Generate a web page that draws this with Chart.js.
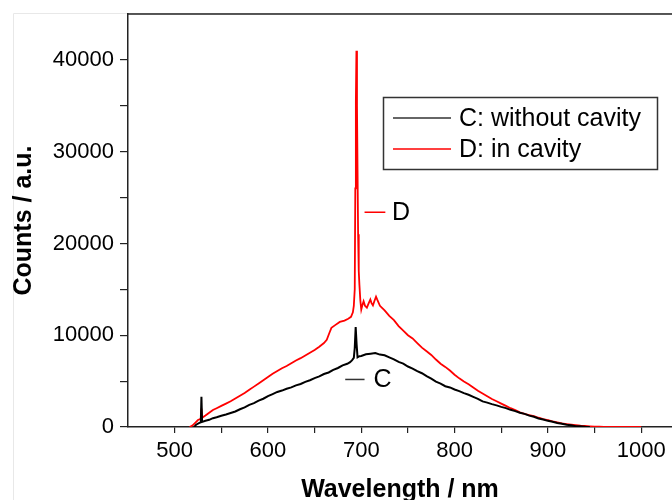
<!DOCTYPE html>
<html>
<head>
<meta charset="utf-8">
<script src="https://cdn.jsdelivr.net/npm/chart.js@4/dist/chart.umd.min.js"></script>
<style>
  body { margin: 0; background: #fff; }
  #wrap { width: 672px; height: 500px; overflow: hidden; }
  canvas { display: block; }
</style>
</head>
<body>
<div id="wrap"><canvas id="spectrum" width="672" height="508"></canvas></div>
<script>
// Data
const wavelengthC = [521, 523, 526, 528, 528.7, 529.4, 533, 537, 541, 545,
  550, 555, 560, 565, 570, 575, 580, 585, 590, 595,
  600, 605, 610, 615, 620, 625, 630, 635, 640, 645,
  650, 655, 660, 665, 670, 675, 680, 685, 688, 690,
  692, 693, 694, 695, 696, 698, 700,
  705, 710, 715, 720, 725, 730, 735, 740, 745, 750,
  755, 760, 765, 770, 775, 780, 785, 790, 795, 800,
  805, 810, 815, 820, 825, 830, 835, 840, 845, 850,
  855, 860, 865, 870, 875, 880, 885, 890, 895, 900,
  905, 910, 915, 920, 925, 930, 935, 940, 945];
const countsC = [0, 250, 420, 500, 3300, 560, 680, 780, 960, 1060,
  1230, 1360, 1520, 1690, 1930, 2130, 2420, 2600, 2870, 3080,
  3370, 3590, 3820, 3970, 4170, 4320, 4540, 4690, 4920, 5090,
  5320, 5510, 5770, 5940, 6220, 6430, 6720, 6890, 7060, 7260,
  7520, 8600, 10900, 9000, 7600, 7720, 7740,
  7920, 7990, 8060, 7890, 7810, 7590, 7370, 7090, 6910, 6590,
  6370, 6090, 5860, 5540, 5260, 4940, 4720, 4440, 4310, 4090,
  3910, 3690, 3510, 3290, 3060, 2790, 2660, 2490, 2360, 2190,
  2060, 1870, 1730, 1550, 1430, 1240, 1110, 930, 810, 670,
  570, 440, 360, 240, 180, 90, 70, 20, 0];

const wavelengthD = [516, 519, 522, 525, 528, 528.7, 529.4, 533, 537, 541, 545,
  550, 555, 560, 565, 570, 575, 580, 585, 590, 595,
  600, 605, 610, 615, 620, 625, 630, 635, 640, 645,
  650, 655, 660, 663, 666, 668, 672, 677, 682, 686,
  689, 691, 692, 693, 693.6, 694.2, 694.8, 695.4, 696, 696.6,
  697.3, 698, 699, 700, 701, 702.5, 704, 706, 708, 709.7,
  711, 712.5, 714, 715.8, 717, 720,
  725, 730, 735, 740, 745, 750, 755, 760, 765, 770,
  775, 780, 785, 790, 795, 800, 805, 810, 815, 820,
  825, 830, 835, 840, 845, 850, 855, 860, 865, 870,
  875, 880, 885, 890, 895, 900, 905, 910, 915, 920,
  925, 930, 935, 940, 945, 950, 955, 960,
  970, 980, 990, 1000];
const countsD = [0, 150, 450, 760, 900, 2000, 1000, 1250, 1550, 1850, 2050,
  2300, 2550, 2800, 3100, 3400, 3700, 4050, 4400, 4750, 5100,
  5450, 5800, 6100, 6400, 6650, 6950, 7250, 7500, 7800, 8100,
  8400, 8750, 9150, 9500, 10300, 10800, 11100, 11450, 11600, 11800,
  12000, 12500, 13200, 15000, 26000, 35500, 41000, 35000, 28000, 21000,
  17000, 15500, 13800, 12800, 13200, 13700, 13200, 13000, 13500, 13900,
  13500, 13250, 13700, 14200, 13900, 13200,
  12700, 12100, 11650, 11000, 10500, 10000, 9650, 9150, 8650, 8250,
  7850, 7350, 6900, 6550, 6150, 5700, 5300, 4950, 4650, 4300,
  3950, 3650, 3350, 3050, 2800, 2550, 2300, 2050, 1850, 1600,
  1420, 1300, 1180, 1010, 860, 740, 610, 500, 400, 320,
  250, 190, 140, 110, 70, 40, 25, 10,
  0, 0, 0, 0];

const seriesNames = ['C: without cavity', 'D: in cavity'];
const seriesColors = ['#000000', '#ff0000'];
const xTickValues = [500, 550, 600, 650, 700, 750, 800, 850, 900, 950, 1000];
const yTickValues = [0, 5000, 10000, 15000, 20000, 25000, 30000, 35000, 40000];

const FONT = "'Liberation Sans', Arial, sans-serif";
const AXIS = '#222';

function toPoints(xs, ys) {
  return xs.map((x, i) => ({ x: x, y: ys[i] }));
}

// frame, top axis line, legend box and the C / D labels
const decorations = {
  id: 'decorations',
  beforeDraw(chart) {
    const ctx = chart.ctx;
    ctx.save();
    ctx.strokeStyle = '#e8e8e8';
    ctx.lineWidth = 1;
    ctx.beginPath();
    ctx.moveTo(13.5, 508);
    ctx.lineTo(13.5, 13.5);
    ctx.lineTo(672, 13.5);
    ctx.stroke();
    ctx.restore();
  },
  afterDraw(chart) {
    const ctx = chart.ctx;
    const a = chart.chartArea;
    const xs = chart.scales.x, ys = chart.scales.y;
    ctx.save();
    ctx.strokeStyle = AXIS;
    ctx.lineWidth = 1.5;
    ctx.beginPath();
    ctx.moveTo(a.left, a.top);
    ctx.lineTo(a.right, a.top);
    ctx.stroke();

    // legend
    const bx = a.left + 255, by = a.top + 83, bw = 274, bh = 72;
    ctx.strokeStyle = '#333';
    ctx.lineWidth = 1.5;
    ctx.strokeRect(bx + 0.5, by + 0.5, bw, bh);
    ctx.font = '25px ' + FONT;
    ctx.textBaseline = 'middle';
    ctx.textAlign = 'left';
    seriesNames.forEach((name, i) => {
      const ly = by + 21 + i * 31;
      ctx.strokeStyle = i === 0 ? '#333' : seriesColors[i];
      ctx.lineWidth = 1.5;
      ctx.beginPath();
      ctx.moveTo(bx + 10, ly);
      ctx.lineTo(bx + 68, ly);
      ctx.stroke();
      ctx.fillStyle = '#000';
      ctx.fillText(name, bx + 76, ly + 1);
    });

    // curve labels
    const dY = ys.getPixelForValue(23400);
    ctx.strokeStyle = seriesColors[1];
    ctx.beginPath();
    ctx.moveTo(xs.getPixelForValue(703.5), dY);
    ctx.lineTo(xs.getPixelForValue(725.8), dY);
    ctx.stroke();
    ctx.fillStyle = '#000';
    ctx.fillText('D', xs.getPixelForValue(733), dY + 1);

    const cY = ys.getPixelForValue(5180);
    ctx.strokeStyle = '#333';
    ctx.beginPath();
    ctx.moveTo(xs.getPixelForValue(682.8), cY);
    ctx.lineTo(xs.getPixelForValue(703.5), cY);
    ctx.stroke();
    ctx.fillText('C', xs.getPixelForValue(713), cY + 1);
    ctx.restore();
  }
};

const ctx = document.getElementById('spectrum').getContext('2d');
const chart = new Chart(ctx, {
  type: 'line',
  data: {
    datasets: [{
      label: seriesNames[0],
      data: toPoints(wavelengthC, countsC),
      borderColor: seriesColors[0],
      borderWidth: 2,
      pointRadius: 0,
      tension: 0
    }, {
      label: seriesNames[1],
      data: toPoints(wavelengthD, countsD),
      borderColor: seriesColors[1],
      borderWidth: 1.8,
      pointRadius: 0,
      tension: 0
    }]
  },
  options: {
    responsive: false,
    animation: false,
    layout: { padding: { top: 14, left: 0, right: 0, bottom: 0 } },
    plugins: {
      legend: { display: false },
      tooltip: { enabled: false }
    },
    scales: {
      x: {
        type: 'linear',
        min: 450,
        max: 1033,
        afterBuildTicks: s => { s.ticks = xTickValues.map(v => ({ value: v })); },
        afterFit: s => { s.height = 81; s.paddingLeft = 0; s.paddingRight = 0; },
        grid: { drawOnChartArea: false, drawTicks: true, tickLength: 6, color: AXIS, lineWidth: 1.2 },
        border: { display: true, color: AXIS, width: 1.5 },
        ticks: {
          padding: 5,
          color: '#000',
          maxRotation: 0,
          autoSkip: false,
          font: { family: FONT, size: 22 },
          callback: v => (v % 100 === 0 ? String(v) : '')
        },
        title: {
          display: true,
          text: 'Wavelength / nm',
          color: '#000',
          font: { family: FONT, size: 25, weight: 'bold' },
          padding: { top: 4, bottom: 3 }
        }
      },
      y: {
        min: 0,
        max: 45000,
        afterBuildTicks: s => { s.ticks = yTickValues.map(v => ({ value: v })); },
        afterFit: s => { s.width = 128; s.paddingTop = 0; s.paddingBottom = 0; },
        grid: { drawOnChartArea: false, drawTicks: true, tickLength: 8, color: AXIS, lineWidth: 1.2 },
        border: { display: true, color: AXIS, width: 1.5 },
        ticks: {
          padding: 6,
          color: '#000',
          autoSkip: false,
          font: { family: FONT, size: 22 },
          callback: v => (v % 10000 === 0 ? String(v) : '')
        },
        title: {
          display: true,
          text: 'Counts / a.u.',
          color: '#000',
          font: { family: FONT, size: 25, weight: 'bold' },
          padding: { top: 9, bottom: 4 }
        }
      }
    }
  },
  plugins: [decorations]
});
</script>
</body>
</html>
